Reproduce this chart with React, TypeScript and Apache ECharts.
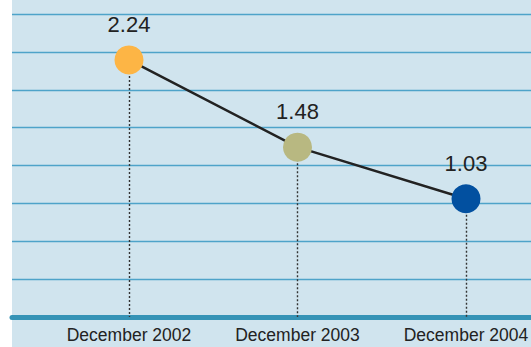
import React, { useEffect, useRef } from "react";
import * as echarts from "echarts";

const categories = ["December 2002", "December 2003", "December 2004"];
const values = [2.24, 1.48, 1.03];
const pointColors = ["#fdb545", "#b8b881", "#0250a0"];

const FONT = "'Liberation Sans', Arial, sans-serif";

export default function App() {
  const ref = useRef<HTMLDivElement>(null);
  useEffect(() => {
    document.body.style.margin = "0";
    const chart = echarts.init(ref.current!, null, { renderer: "svg" });
    chart.setOption({
      animation: false,
      graphic: [
        {
          type: "rect",
          z: -100,
          silent: true,
          shape: { x: 12, y: 0, width: 519, height: 347 },
          style: { fill: "#d0e4ee" },
        },
      ],
      grid: [
        { left: 12, right: 0, top: 14, bottom: 30, outerBoundsMode: "none" },
        { left: 129, right: 65, top: 14, bottom: 30, outerBoundsMode: "none" },
      ],
      xAxis: [
        {
          type: "value",
          gridIndex: 0,
          min: 0,
          max: 1,
          axisLine: { show: true, lineStyle: { color: "#3593b6", width: 5 } },
          axisTick: { show: false },
          axisLabel: { show: false },
          splitLine: { show: false },
        },
        {
          type: "category",
          gridIndex: 1,
          data: categories,
          boundaryGap: false,
          axisLine: { show: false },
          axisTick: { show: false },
          splitLine: { show: false },
          axisLabel: {
            show: true,
            interval: 0,
            hideOverlap: false,
            margin: 9,
            color: "#222",
            fontSize: 17.5,
            fontFamily: FONT,
          },
        },
      ],
      yAxis: [
        {
          type: "value",
          gridIndex: 0,
          min: 0,
          max: 2.64,
          interval: 0.33,
          axisLine: { show: false },
          axisTick: { show: false },
          axisLabel: { show: false },
          splitLine: { show: true, lineStyle: { color: "#4ea3c9", width: 1.3 } },
        },
        {
          type: "value",
          gridIndex: 1,
          min: 0,
          max: 2.64,
          interval: 0.33,
          show: false,
        },
      ],
      series: [
        {
          type: "line",
          xAxisIndex: 1,
          yAxisIndex: 1,
          z: 1,
          data: [],
          markLine: {
            silent: true,
            symbol: "none",
            label: { show: false },
            lineStyle: { type: [2, 2], color: "#333", width: 1.4 },
            data: categories.map((c, i) => [
              { coord: [c, values[i]] },
              { coord: [c, 0] },
            ]),
          },
        },
        {
          type: "line",
          xAxisIndex: 1,
          yAxisIndex: 1,
          z: 5,
          data: values.map((v, i) => ({
            value: v,
            itemStyle: { color: pointColors[i] },
          })),
          symbol: "circle",
          symbolSize: 29,
          lineStyle: { color: "#222", width: 2.5 },
          itemStyle: { borderWidth: 0 },
          label: {
            show: true,
            position: "top",
            distance: 10,
            color: "#222",
            fontSize: 22,
            fontFamily: FONT,
            formatter: (p: any) => p.value.toFixed(2),
          },
        },
      ],
    });
    return () => chart.dispose();
  }, []);
  return (
    <div
      ref={ref}
      style={{ position: "absolute", left: 0, top: 0, width: 531, height: 347 }}
    />
  );
}
